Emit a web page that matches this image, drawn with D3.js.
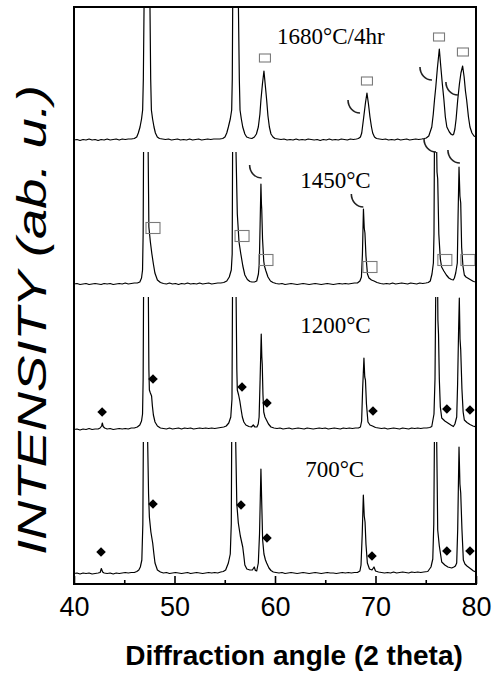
<!DOCTYPE html>
<html>
<head>
<meta charset="utf-8">
<script src="https://cdn.jsdelivr.net/npm/d3@7"></script>
<style>
  html, body { margin: 0; padding: 0; background: #fff; }
  svg { display: block; }
</style>
</head>
<body>
<svg id="chart" width="503" height="673"></svg>
<script>
// ---------------- DATA ----------------
const samples = ["1680°C/4hr", "1450°C", "1200°C", "700°C"];
const xTicks = [40, 50, 60, 70, 80];
const xMinorTicks = [45, 55, 65, 75];
const xTitle = "Diffraction angle (2 theta)";
const yTitle = "INTENSITY (ab. u.)";
const traceOffsets = [435, 290, 145, 0]; // vertical stacking offsets (ab. u.)
const clipLevel = 142;                   // patterns are truncated at this height

// 2theta, intensity (ab. u.)
const pattern1680 = [
 [40.0,9],[40.3,9.5],[40.6,8.5],[40.9,9.5],[41.2,9],[41.5,10],[41.8,9],[42.1,9.5],[42.4,8.5],[42.7,9.5],[43.0,9],[43.3,10],[43.6,9],[43.9,9.5],[44.2,10],[44.5,9],[44.8,10],[45.1,9.5],[45.4,10],[45.7,10],[46.0,10.5],
 [46.24,12],[46.4,16],[46.57,22],[46.72,30],[46.83,39],[46.9,70],[46.97,142],[47.27,800],[47.56,142],[47.63,70],[47.7,39],[47.82,30],[47.96,22],[48.1,16],[48.29,12],[48.5,10.5],
 [48.8,10],[49.1,9.5],[49.4,10],[49.7,9],[50.0,9.5],[50.3,10],[50.6,9],[50.9,9.5],[51.2,9],[51.5,10],[51.8,9],[52.1,9.5],[52.4,10],[52.7,9],[53.0,9.5],[53.3,10],[53.6,9.5],[53.9,10],[54.2,10],[54.5,10],[54.8,10.5],
 [55.02,12],[55.2,16],[55.36,22],[55.55,30],[55.69,39],[55.75,70],[55.79,142],[56.08,800],[56.36,142],[56.45,70],[56.52,39],[56.65,30],[56.79,22],[57.0,15],[57.18,12],[57.45,11],[57.7,10.5],
 [57.95,12],[58.15,15],[58.34,22],[58.5,35],[58.6,49],[58.75,65],[58.9,78],[59.05,62],[59.17,49],[59.3,33],[59.44,22],[59.6,15],[59.8,12],[60.0,10.5],
 [60.3,10],[60.6,9.5],[60.9,10],[61.2,9],[61.5,9.5],[61.8,9],[62.1,10],[62.4,9],[62.7,9.5],[63.0,9],[63.3,10],[63.6,9.5],[63.9,9],[64.2,9.5],[64.5,8.5],[64.8,9.5],[65.1,9],[65.4,10],[65.7,9],[66.0,9.5],[66.3,9],[66.6,10],[66.9,9.5],[67.2,9],[67.5,10],[67.8,9.5],[68.1,10],
 [68.3,10.5],[68.5,12],[68.63,16],[68.83,32],[69.0,46],[69.15,56],[69.3,45],[69.45,32],[69.6,22],[69.72,16],[69.9,12],[70.1,10.5],
 [70.4,10],[70.7,9.5],[71.0,10],[71.3,9],[71.6,9.5],[71.9,9],[72.2,10],[72.5,9],[72.8,9.5],[73.1,10],[73.4,9],[73.7,9.5],[74.0,10],[74.3,9.5],[74.6,10],[74.85,10.5],
 [75.05,11],[75.3,13],[75.6,22],[75.75,35],[75.87,49],[76.0,62],[76.15,80],[76.35,100],[76.5,82],[76.65,65],[76.8,50],[76.95,32],[77.1,22],[77.35,17],[77.55,14.5],[77.68,14],
 [77.78,15],[77.9,20],[78.02,30],[78.18,49],[78.35,65],[78.5,76],[78.67,83],[78.82,72],[78.95,58],[79.07,49],[79.25,32],[79.4,22],[79.6,16],[79.8,13],[80.0,12]
];

const pattern1450 = [
 [40.0,10],[40.3,10.5],[40.6,9.5],[40.9,10],[41.2,10.5],[41.5,9.5],[41.8,10],[42.1,10.5],[42.4,10],[42.7,9.5],[43.0,10.5],[43.3,10],[43.6,10.5],[43.9,9.5],[44.2,10],[44.5,10.5],[44.8,10],[45.1,11],[45.4,10],[45.7,10.5],[46.0,11],[46.3,11],
 [46.55,12],[46.72,16],[46.82,24],[46.88,60],[46.92,142],[47.15,900],[47.38,142],[47.42,100],[47.45,67],[47.6,52],[47.75,40],[47.9,30],[48.05,21],[48.3,14],[48.6,11.5],
 [48.9,10.5],[49.2,10],[49.5,11],[49.8,10],[50.1,10.5],[50.4,9.5],[50.7,10.5],[51.0,10],[51.3,11],[51.6,10],[51.9,10.5],[52.2,10],[52.5,11],[52.8,10],[53.1,10.5],[53.4,11],[53.7,10],[54.0,10.5],[54.3,11],[54.6,11],
 [54.9,11.5],[55.2,13],[55.45,17],[55.65,24],[55.74,40],[55.78,142],[55.95,900],[56.12,142],[56.25,80],[56.42,52],[56.6,40],[56.8,28],[57.0,19],[57.25,14.5],[57.5,12.5],[57.7,12],[57.95,12],
 [58.18,13],[58.35,20],[58.44,31],[58.52,70],[58.6,110],[58.65,90],[58.68,85],[58.76,55],[58.88,33],[58.95,28],[59.1,23],[59.3,17],[59.55,13],[59.8,11.5],[60.1,10.5],
 [60.4,10],[60.7,10.5],[61.0,9.5],[61.3,10],[61.6,10.5],[61.9,10],[62.2,9.5],[62.5,10],[62.8,10.5],[63.1,10],[63.4,9.5],[63.7,10],[64.0,10.5],[64.3,10],[64.6,9.5],[64.9,10],[65.2,10.5],[65.5,10],[65.8,9.5],[66.1,10],[66.4,10.5],[66.7,10],[67.0,10.5],[67.3,10],[67.6,10.5],[67.9,11],
 [68.2,11],[68.45,13],[68.6,17],[68.7,40],[68.8,85],[68.88,66],[68.95,61],[69.05,38],[69.2,20],[69.35,16],[69.6,14],[69.85,13],[70.15,11.5],
 [70.5,10.5],[70.8,10],[71.1,10.5],[71.4,10],[71.7,11],[72.0,10],[72.3,10.5],[72.6,11],[72.9,10.5],[73.2,10],[73.5,11],[73.8,10.5],[74.1,10],[74.4,11],[74.7,10.5],[75.0,11],
 [75.25,11.5],[75.45,13],[75.62,20],[75.76,31],[75.82,60],[75.86,142],[75.98,900],[76.09,142],[76.12,122],[76.19,115],[76.3,60],[76.45,35],[76.58,27],[76.8,23],[77.05,19],[77.3,16],[77.55,14.5],[77.74,14],
 [77.85,16],[77.98,21],[78.14,31],[78.22,80],[78.31,127],[78.4,98],[78.48,91],[78.57,47],[78.7,28],[78.84,19],[79.0,17],[79.25,15.5],[79.5,14],[79.75,12.5],[80.0,12]
];

const pattern1200 = [
 [40.0,9.5],[40.3,10],[40.6,9],[40.9,10],[41.2,9.5],[41.5,10.5],[41.8,9.5],[42.1,10],[42.4,10],[42.6,11],[42.75,13],[42.82,16],[42.9,12.5],[43.05,11],[43.3,10],[43.6,10.5],[43.9,9.5],[44.2,10],[44.5,10.5],[44.8,10],[45.1,10.5],[45.4,10],[45.7,11],[46.0,11],
 [46.3,12],[46.55,14],[46.72,18],[46.82,25],[46.88,60],[46.92,142],[47.15,900],[47.4,142],[47.45,70],[47.5,49],[47.6,46],[47.72,43],[47.8,33],[47.9,24],[48.06,17],[48.3,13],[48.6,11],
 [48.9,10.5],[49.2,10],[49.5,11],[49.8,10],[50.1,10.5],[50.4,11],[50.7,10],[51.0,11],[51.3,10.5],[51.6,11],[51.9,10],[52.2,10.5],[52.5,11],[52.8,10.5],[53.1,11],[53.4,10.5],[53.7,11],[54.0,10.5],[54.3,11],[54.6,11.5],
 [54.9,12],[55.15,13],[55.4,16],[55.6,22],[55.72,40],[55.77,142],[55.95,900],[56.13,142],[56.2,70],[56.25,49],[56.38,44],[56.5,38],[56.62,30],[56.75,22],[56.9,17],[57.1,14],[57.4,12.5],[57.65,12],[57.84,14],[58.0,12],
 [58.2,12],[58.33,15],[58.42,22],[58.52,60],[58.63,105],[58.69,82],[58.73,75],[58.8,45],[58.88,27],[59.0,22],[59.15,19],[59.35,15],[59.6,12],[59.9,11],
 [60.2,10.5],[60.5,11],[60.8,10],[61.1,10.5],[61.4,11],[61.7,10],[62.0,10.5],[62.3,11],[62.6,10.5],[62.9,10],[63.2,11],[63.5,10.5],[63.8,10],[64.1,10.5],[64.4,11],[64.7,10.5],[65.0,11],[65.3,10],[65.6,10.5],[65.9,11],[66.2,10.5],[66.5,10],[66.8,11],[67.1,10.5],[67.4,11],[67.7,10.5],[68.0,11],
 [68.3,11],[68.5,12],[68.62,18],[68.72,50],[68.85,81],[68.93,62],[69.0,59],[69.1,35],[69.25,17],[69.45,14],[69.7,13],[70.0,11.5],
 [70.3,11],[70.6,10.5],[70.9,11],[71.2,10],[71.5,10.5],[71.8,11],[72.1,10.5],[72.4,10],[72.7,11],[73.0,10.5],[73.3,10],[73.6,11],[73.9,10.5],[74.2,11],[74.5,10.5],[74.8,11],
 [75.1,11],[75.4,11.5],[75.6,12.5],[75.82,25],[75.92,60],[75.99,142],[76.09,900],[76.19,142],[76.21,119],[76.27,105],[76.35,60],[76.45,32],[76.59,21],[76.9,18],[77.2,16],[77.5,14],[77.75,12.5],
 [77.9,15],[78.08,22],[78.17,55],[78.27,110],[78.34,141],[78.41,100],[78.48,89],[78.6,50],[78.72,27],[78.84,19],[79.1,16.5],[79.4,14.5],[79.7,13],[80.0,12]
];

const pattern700 = [
 [40.0,10.5],[40.3,11],[40.6,10],[40.9,11],[41.2,10.5],[41.5,11],[41.8,10],[42.1,10.5],[42.4,11],[42.6,11.5],[42.72,15.5],[42.85,12],[43.0,11],[43.3,10.5],[43.6,11],[43.9,10],[44.2,11],[44.5,10.5],[44.8,11],[45.1,11.5],[45.4,11],[45.7,11.5],[46.0,11.5],
 [46.25,12.5],[46.45,14],[46.6,17],[46.75,24],[46.85,60],[46.9,142],[47.12,900],[47.33,142],[47.42,90],[47.5,67],[47.65,52],[47.83,41],[47.95,30],[48.06,21],[48.3,14],[48.6,12],
 [48.9,11],[49.2,11.5],[49.5,10.5],[49.8,11],[50.1,11.5],[50.4,11],[50.7,10.5],[51.0,11],[51.3,11.5],[51.6,10.5],[51.9,11],[52.2,11.5],[52.5,11],[52.8,10.5],[53.1,11],[53.4,11.5],[53.7,11],[54.0,11.5],[54.3,11],[54.6,12],
 [54.85,12.5],[55.09,14],[55.36,21],[55.55,30],[55.65,60],[55.69,142],[55.9,900],[56.09,142],[56.2,80],[56.35,61],[56.55,48],[56.79,37],[56.9,28],[57.0,19],[57.2,15],[57.5,14],[57.75,14],[57.94,17],[58.05,13.5],
 [58.18,13],[58.34,21],[58.46,50],[58.6,115],[58.67,85],[58.72,65],[58.77,44],[58.9,30],[59.05,24],[59.17,21],[59.4,16],[59.6,13.5],[59.83,12],
 [60.1,11.5],[60.4,11],[60.7,11.5],[61.0,10.5],[61.3,11],[61.6,11.5],[61.9,11],[62.2,10.5],[62.5,11],[62.8,11.5],[63.1,11],[63.4,10.5],[63.7,11],[64.0,11.5],[64.3,11],[64.6,10.5],[64.9,11],[65.2,11.5],[65.5,11],[65.8,11],[66.1,10.5],[66.4,11],[66.7,11.5],[67.0,11],[67.3,11.5],[67.6,11],[67.9,11.5],
 [68.2,11.5],[68.45,13],[68.56,19],[68.68,50],[68.79,89],[68.88,68],[68.96,62],[69.05,40],[69.19,21],[69.4,15],[69.65,14],[69.85,17],[70.0,13],[70.3,12],
 [70.6,11.5],[70.9,11],[71.2,11.5],[71.5,11],[71.8,12],[72.1,11],[72.4,11.5],[72.7,12],[73.0,11.5],[73.3,11],[73.6,12],[73.9,11.5],[74.2,12],[74.5,11.5],[74.8,12],
 [75.2,12.5],[75.52,17],[75.7,25],[75.8,60],[75.86,142],[75.97,900],[76.09,142],[76.14,100],[76.19,54],[76.35,38],[76.59,22],[76.9,19],[77.2,17],[77.58,16],[77.8,17],
 [77.95,18],[78.08,21],[78.18,55],[78.25,100],[78.31,137],[78.4,100],[78.48,91],[78.6,55],[78.74,24],[78.9,20],[79.1,18],[79.5,15],[79.75,13],[80.0,12]
];

// phase markers: [2theta, intensity above trace offset]
const squares1680 = [[59.0,91],[69.15,68],[76.32,112],[78.7,97]];
const arcs1680    = [[68.46,36],[75.62,69],[78.2,54]];
const squares1450 = [[47.86,66],[56.72,58],[59.1,34],[69.45,27],[76.9,34],[79.2,34]];
const arcs1450    = [[58.67,116],[68.79,87],[76.02,142],[78.4,131]];
const diamonds1200 = [[42.8,27],[47.86,60],[56.72,52],[59.2,36],[69.75,28],[77.1,30],[79.4,29]];
const diamonds700  = [[42.69,32],[47.86,80],[56.62,79],[59.2,46],[69.65,28],[77.1,33],[79.4,33]];

// ---------------- DRAW ----------------
(function () {
const patterns = [pattern1680, pattern1450, pattern1200, pattern700];
const squareSets = [squares1680, squares1450, null, null];
const arcSets = [arcs1680, arcs1450, null, null];
const diamondSets = [null, null, diamonds1200, diamonds700];

const svg = d3.select("#chart");
const mLeft = 74, mRight = 476, mTop = 7, mBottom = 584;
const x = d3.scaleLinear().domain([40, 80]).range([mLeft, mRight]);
const y = d3.scaleLinear().domain([0, 577]).range([mBottom, mTop]);

const defs = svg.append("defs");
patterns.forEach((p, i) => {
  const off = traceOffsets[i];
  defs.append("clipPath").attr("id", "clip" + i)
    .append("rect")
    .attr("x", mLeft).attr("width", mRight - mLeft)
    .attr("y", y(off + clipLevel))
    .attr("height", mBottom - y(off + clipLevel));
});

const plot = svg.append("g");
patterns.forEach((p, i) => {
  const off = traceOffsets[i];
  const line = d3.line().x(d => x(d[0])).y(d => y(d[1] + off));
  plot.append("path")
    .datum(p)
    .attr("clip-path", "url(#clip" + i + ")")
    .attr("fill", "none")
    .attr("stroke", "#000")
    .attr("stroke-width", 1.2)
    .attr("stroke-linejoin", "round")
    .attr("d", line);
});

// squares
const squareSize = [[11, 8], [14, 11]];
squareSets.forEach((s, i) => {
  if (!s) return;
  const off = traceOffsets[i];
  const [w, h] = squareSize[i];
  plot.selectAll(null).data(s).enter().append("rect")
    .attr("x", d => x(d[0]) - w / 2)
    .attr("y", d => y(d[1] + off) - h / 2)
    .attr("width", w).attr("height", h)
    .attr("fill", "none").attr("stroke", "#7a7a7a").attr("stroke-width", 1.1);
});

// arcs
arcSets.forEach((s, i) => {
  if (!s) return;
  const off = traceOffsets[i];
  const aw = 12, ah = 13;
  plot.selectAll(null).data(s).enter().append("path")
    .attr("d", d => {
      const ex = x(d[0]), ey = y(d[1] + off);
      return `M${ex - aw},${ey - ah} A${aw},${ah} 0 0 0 ${ex},${ey}`;
    })
    .attr("fill", "none").attr("stroke", "#222").attr("stroke-width", 1.6);
});

// diamonds
diamondSets.forEach((s, i) => {
  if (!s) return;
  const off = traceOffsets[i];
  const r = 4.8;
  plot.selectAll(null).data(s).enter().append("path")
    .attr("d", d => {
      const cx = x(d[0]), cy = y(d[1] + off);
      return `M${cx},${cy - r} L${cx + r},${cy} L${cx},${cy + r} L${cx - r},${cy} Z`;
    })
    .attr("fill", "#000");
});

// sample labels
const labelPos = [[60.2, 105], [62.5, 106], [62.5, 106], [63.0, 107]];
samples.forEach((s, i) => {
  svg.append("text")
    .attr("x", x(labelPos[i][0]))
    .attr("y", y(labelPos[i][1] + traceOffsets[i]))
    .attr("font-family", "'Liberation Serif', 'Times New Roman', serif")
    .attr("font-size", 23)
    .attr("fill", "#000")
    .text(s);
});

// frame
svg.append("rect")
  .attr("x", mLeft).attr("y", mTop)
  .attr("width", mRight - mLeft).attr("height", mBottom - mTop)
  .attr("fill", "none").attr("stroke", "#000").attr("stroke-width", 2);

// x axis
const axis = svg.append("g").attr("transform", `translate(0,${mBottom})`)
  .call(d3.axisBottom(x).tickValues(xTicks).tickSize(-8).tickPadding(13).tickFormat(d3.format("d")));
axis.select(".domain").remove();
axis.selectAll(".tick line").attr("stroke", "#000").attr("stroke-width", 1.6);
axis.selectAll(".tick text")
  .attr("font-family", "'Liberation Sans', Arial, sans-serif")
  .attr("font-size", 27).attr("fill", "#000");
const minor = svg.append("g").attr("transform", `translate(0,${mBottom})`)
  .call(d3.axisBottom(x).tickValues(xMinorTicks).tickSize(-4).tickFormat(""));
minor.select(".domain").remove();
minor.selectAll(".tick line").attr("stroke", "#000").attr("stroke-width", 1.6);

// axis titles
svg.append("text")
  .attr("x", 294).attr("y", 665)
  .attr("text-anchor", "middle")
  .attr("font-family", "'Liberation Sans', Arial, sans-serif")
  .attr("font-weight", "bold")
  .attr("font-size", 28)
  .attr("fill", "#000")
  .text(xTitle);

svg.append("text")
  .attr("transform", "translate(46,320) rotate(-90)")
  .attr("text-anchor", "middle")
  .attr("font-family", "'Liberation Sans', Arial, sans-serif")
  .attr("font-style", "italic")
  .attr("font-size", 40)
  .attr("textLength", 470)
  .attr("lengthAdjust", "spacingAndGlyphs")
  .attr("fill", "#000")
  .text(yTitle);
})();
</script>
</body>
</html>
